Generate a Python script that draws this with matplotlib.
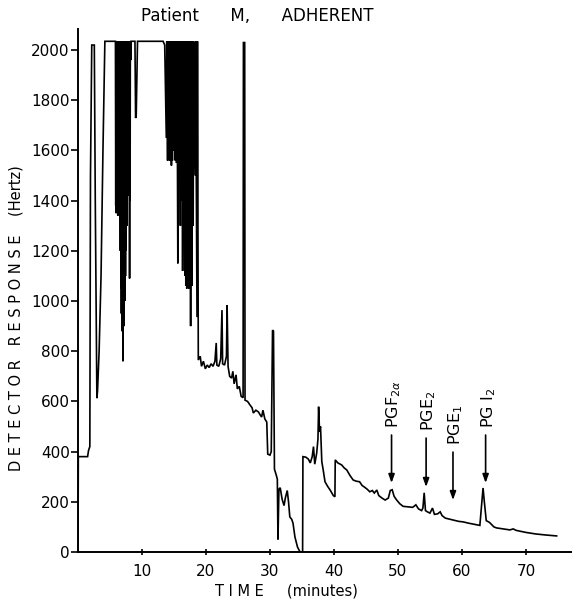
import numpy as np
import matplotlib
matplotlib.use('Agg')
from matplotlib import pyplot as plt

# Clip level of the recorder (Hertz).
top_level=2035

# Early part of trace: time (minutes) and detector response (Hertz).
early_time=[0.0,0.05,1.5,1.65,1.85,1.95,2.15,2.55,2.7,2.95,3.05,3.3,3.6,3.9,4.2,4.4,5.85]
early_resp=[0,380,380,405,420,1500,2020,2020,1400,613,640,800,1100,1600,2035,2035,2035]

# First saturated burst: times of dips and their lowest values.
burst1_time=[5.9,5.98,6.06,6.14,6.22,6.3,6.38,6.46,6.54,6.62,6.7,6.78,6.86,6.94,7.02,
             7.1,7.18,7.26,7.34,7.42,7.5,7.58,7.66,7.74,7.82,7.9,7.98,8.06,8.14,8.24]
burst1_low=[1380,1350,1400,1360,1340,1370,1390,1350,1330,1200,1050,950,880,1000,760,
            1040,900,1040,1000,1100,1200,1350,1300,1500,1420,1700,1450,1090,1400,1960]

# Plateau after first burst.
plateau_time=[8.4,8.9,9.0,9.1,9.3,13.3,13.55]
plateau_resp=[2035,2035,1729,1740,2035,2035,2020]

# Second saturated burst.
burst2_time=[13.8,14.0,14.15,14.3,14.45,14.6,14.75,14.9,15.05,15.2,15.4,15.6,15.8,16.0,
             16.2,16.35,16.5,16.7,16.85,17.0,17.15,17.3,17.45,17.6,17.8,18.0,18.3,18.6]
burst2_low=[1650,1560,1600,1560,1580,1540,1560,1600,1700,1560,1550,1150,1500,1300,
            1400,1120,1400,1100,1060,1050,1080,1050,1100,900,1060,1300,1500,936]

# Late part of trace.
late_time=[18.8,19.1,19.3,19.6,19.9,20.2,20.5,20.8,21.1,21.4,21.6,21.7,22.0,22.3,22.5,22.6,
           22.9,23.2,23.3,23.45,23.7,24.0,24.2,24.4,24.7,24.9,25.2,25.5,25.8,25.85,26.05,26.1,
           26.5,26.9,27.2,27.4,27.8,28.2,28.5,28.7,28.9,29.2,29.5,29.65,30.0,30.2,30.4,30.55,
           30.7,31.0,31.15,31.25,31.4,31.6,31.9,32.2,32.4,32.7,32.9,33.1,33.4,33.6,33.9,34.3,
           34.7,35.1,35.15,35.6,36.0,36.3,36.6,36.8,37.0,37.3,37.5,37.6,37.75,37.9,38.1,38.3,
           38.6,39.0,39.4,39.9,40.15,40.2,40.6,41.2,41.6,42.0,42.5,43.0,43.5,44.0,44.4,44.8,
           45.2,45.6,46.0,46.3,46.7,47.0,47.5,48.0,48.5,48.8,49.1,49.4,49.8,50.3,50.8,51.5,
           52.3,52.8,53.2,53.7,53.9,54.1,54.3,54.6,55.0,55.4,55.7,56.2,56.6,56.9,57.4,58.5,
           59.5,60.2,61.0,62.0,62.8,63.05,63.3,63.5,63.8,64.3,65.0,65.4,66.5,67.5,68.0,68.5,
           70.0,71.5,73.0,74.8]
late_resp=[765,780,740,760,730,745,735,750,740,760,833,745,740,770,964,750,
           745,780,984,740,700,693,720,670,706,650,660,620,615,2030,2030,605,
           600,585,575,554,565,558,545,538,565,530,518,390,386,400,884,880,
           330,305,290,50,250,256,210,185,215,245,200,140,130,115,60,20,
           0,0,380,378,370,355,380,420,350,394,450,579,480,500,360,330,
           280,262,247,225,220,367,355,347,335,327,305,287,282,280,265,258,
           250,240,245,235,247,225,215,207,215,245,248,222,207,192,182,180,
           178,188,172,165,175,236,165,160,155,175,150,152,160,145,135,128,
           122,120,115,110,106,180,255,200,125,118,100,96,92,88,92,86,
           78,72,68,64]

# Peak labels and arrow positions (time, arrow top, arrow tip).
peak_names=['PGF$_{2\\alpha}$','PGE$_2$','PGE$_1$','PG I$_2$']
peak_time=[49.0,54.4,58.6,63.7]
arrow_top=[466,454,398,466]
arrow_tip=[275,259,207,275]

#---- Assemble trace ----#
# Initialize containers.
t_all=list(early_time)
v_all=list(early_resp)
# Add first burst.
for i in range(len(burst1_time)):
  t_all+=[burst1_time[i],burst1_time[i]+0.04]
  v_all+=[burst1_low[i],top_level]
# Add plateau.
t_all+=plateau_time
v_all+=plateau_resp
# Add second burst.
for i in range(len(burst2_time)):
  t_all+=[burst2_time[i],burst2_time[i]+0.07]
  v_all+=[burst2_low[i],top_level]
# Add late part.
t_all+=late_time
v_all+=late_resp

#---- Generate plot ----#
plt.rcParams['font.family']=['DejaVu Sans']
fig=plt.figure(figsize=(5.72,6.0),dpi=100)
ax=fig.add_axes([78/572,48/600,494/572,523/600])
# Plot trace.
ax.plot(t_all,v_all,color='black',linewidth=1.2,solid_joinstyle='miter')
# Set limits.
ax.set_xlim(0,77.2)
ax.set_ylim(0,2084)
# Set ticks.
ax.set_xticks(np.arange(10,80,10))
ax.set_yticks(np.arange(0,2001,200))
ax.tick_params(axis='y',direction='out',length=5,width=1.2,pad=1,labelsize=11)
ax.tick_params(axis='x',direction='inout',length=5,width=1.2,pad=6,labelsize=11)
# Hide top and right spines.
ax.spines['top'].set_visible(False)
ax.spines['right'].set_visible(False)
ax.spines['left'].set_linewidth(1.4)
ax.spines['bottom'].set_linewidth(1.4)
# Add arrows and labels.
for i in range(len(peak_names)):
  ax.annotate('',xy=(peak_time[i],arrow_tip[i]),xytext=(peak_time[i],arrow_top[i]),
              arrowprops=dict(arrowstyle='-|>,head_length=0.5,head_width=0.18',
                              color='black',linewidth=1.2,shrinkA=0,shrinkB=0))
  ax.text(peak_time[i]+0.4,arrow_top[i]+30,peak_names[i],rotation=90,
          ha='center',va='bottom',fontsize=11.5)
# Title and axis labels.
fig.text(257/572,1-16/600,'Patient      M,      ADHERENT',ha='center',va='center',fontsize=12)
fig.text(16/572,1-318/600,'D E T E C T O R   R E S P O N S E    (Hertz)',rotation=90,
         ha='center',va='center',fontsize=10.5)
fig.text(286/572,1-591/600,'T I M E     (minutes)',ha='center',va='center',fontsize=10.5)
# Save plot.
fig.savefig('out.png',dpi=100)
plt.close(fig)
